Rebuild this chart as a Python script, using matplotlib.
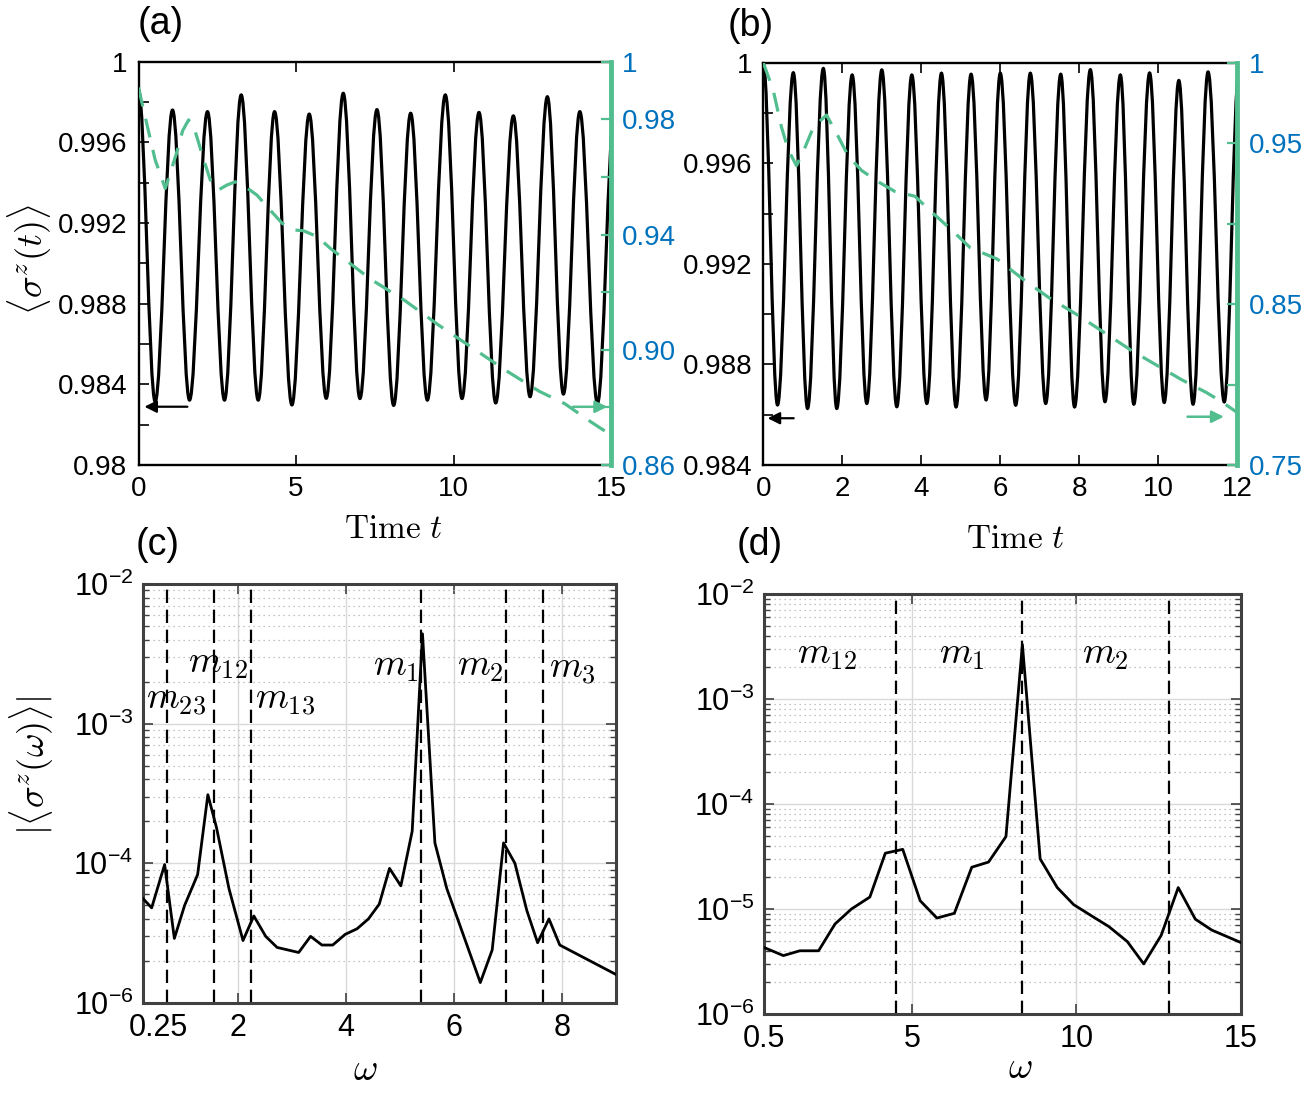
import numpy as np
import matplotlib
matplotlib.use('Agg')
import matplotlib.pyplot as plt
from matplotlib.path import Path
from matplotlib.patches import PathPatch
from matplotlib.ticker import LogLocator, NullFormatter, NullLocator
from matplotlib.transforms import ScaledTranslation

plt.rcParams['font.family'] = ['Liberation Sans', 'DejaVu Sans']
plt.rcParams['mathtext.fontset'] = 'cm'

GREEN = '#52be8f'
BLUE = '#0072bd'
FRAME = '#404040'

# (a) black curve: times and values of the turning points
a_t = [0.0, 0.53, 1.08, 1.62, 2.19, 2.73, 3.26, 3.80, 4.32, 4.87,
       5.42, 5.96, 6.50, 7.03, 7.57, 8.10, 8.64, 9.17, 9.74, 10.27,
       10.81, 11.34, 11.90, 12.43, 12.98, 13.49, 14.01, 14.57, 15.11]
a_v = [0.9986, 0.98314, 0.99760, 0.98322, 0.99752, 0.98322, 0.99835, 0.98322, 0.99752, 0.98298,
       0.99740, 0.98331, 0.99843, 0.98330, 0.99762, 0.98296, 0.99744, 0.98322, 0.99835, 0.98330,
       0.99748, 0.98308, 0.99731, 0.98339, 0.99826, 0.98352, 0.99752, 0.98306, 0.9975]
# (a) green dashed curve (right axis)
ag_t = [0.0, 0.26, 0.53, 0.85, 1.20, 1.40, 1.59, 1.75, 1.85, 2.07, 2.28, 2.54, 2.81, 3.07, 3.39,
        3.76, 4.18, 4.56, 4.93, 5.24, 5.67, 6.09, 7.37, 8.44, 9.51, 10.58, 11.65, 12.72,
        13.53, 14.33, 15.0]
ag_v = [0.9910, 0.9786, 0.9659, 0.9560, 0.9680, 0.9760, 0.9798, 0.9775, 0.9740, 0.9660, 0.9589,
        0.9555, 0.9572, 0.9583, 0.9566, 0.9537, 0.9485, 0.9439, 0.9416, 0.9413, 0.9393, 0.9352,
        0.9245, 0.9172, 0.9087, 0.9008, 0.8929, 0.8856, 0.8813, 0.8752, 0.8704]

# (b) black curve turning points
b_t = [0.0, 0.36, 0.76, 1.12, 1.52, 1.86, 2.25, 2.62, 3.00, 3.38,
       3.76, 4.14, 4.51, 4.88, 5.26, 5.64, 6.00, 6.39, 6.76, 7.15,
       7.53, 7.88, 8.28, 8.65, 9.04, 9.38, 9.78, 10.15, 10.52, 10.88,
       11.26, 11.67, 12.04]
b_v = [1.0, 0.98639, 0.99960, 0.98625, 0.99977, 0.98625, 0.99951, 0.98645, 0.99971, 0.98632,
       0.99951, 0.98645, 0.99958, 0.98631, 0.99954, 0.98659, 0.99958, 0.98638, 0.99958, 0.98645,
       0.99954, 0.98631, 0.99972, 0.98652, 0.99951, 0.98642, 0.99959, 0.98649, 0.99929, 0.98642,
       0.99963, 0.98651, 0.9996]
# (b) green dashed curve (right axis)
bg_t = [0.0, 0.25, 0.46, 0.63, 0.84, 1.05, 1.27, 1.60, 1.90, 2.15, 2.49, 2.91, 3.33, 3.84,
        4.18, 4.77, 5.24, 5.92, 6.60, 7.23, 7.97, 8.65, 9.33, 9.96, 10.59, 11.22, 11.56, 12.0]
bg_v = [1.0, 0.983, 0.960, 0.946, 0.936, 0.947, 0.960, 0.9675, 0.954, 0.942, 0.933, 0.926,
        0.920, 0.917, 0.909, 0.896, 0.885, 0.878, 0.865, 0.854, 0.843, 0.832, 0.821, 0.812,
        0.803, 0.795, 0.790, 0.7826]

# (c) spectrum
c_w = [0.25, 0.41, 0.65, 0.83, 1.02, 1.26, 1.45, 1.61, 1.84, 2.10,
       2.30, 2.52, 2.73, 3.13, 3.35, 3.56, 3.76, 3.99, 4.21, 4.42,
       4.62, 4.81, 5.02, 5.23, 5.42, 5.65, 5.87, 6.49, 6.71, 6.92,
       7.13, 7.35, 7.55, 7.76, 7.96, 9.0]
c_a = [5.6e-5, 4.8e-5, 9.8e-5, 2.9e-5, 5.0e-5, 8.3e-5, 3.1e-4, 1.8e-4, 6.6e-5, 2.8e-5,
       4.2e-5, 3.0e-5, 2.5e-5, 2.3e-5, 3.0e-5, 2.6e-5, 2.6e-5, 3.1e-5, 3.4e-5, 4.0e-5,
       5.1e-5, 9.2e-5, 6.9e-5, 1.7e-4, 4.4e-3, 1.4e-4, 6.6e-5, 1.4e-5, 2.4e-5, 1.4e-4,
       1.0e-4, 4.6e-5, 2.7e-5, 4.0e-5, 2.6e-5, 1.6e-5]
c_modes = [0.69, 1.56, 2.25, 5.40, 6.96, 7.65]
c_names = ['$m_{23}$', '$m_{12}$', '$m_{13}$', '$m_1$', '$m_2$', '$m_3$']
c_name_x = [0.87, 1.63, 2.87, 4.93, 6.49, 8.19]
c_name_y = [1.48e-3, 2.7e-3, 1.48e-3, 2.6e-3, 2.6e-3, 2.45e-3]

# (d) spectrum
d_w = [0.5, 1.09, 1.59, 2.16, 2.66, 3.16, 3.72, 4.19, 4.72, 5.25,
       5.76, 6.29, 6.82, 7.33, 7.86, 8.36, 8.90, 9.42, 9.92, 10.49,
       10.99, 11.55, 12.05, 12.58, 13.10, 13.62, 14.12, 15.0]
d_a = [4.3e-6, 3.6e-6, 4.0e-6, 4.0e-6, 7.2e-6, 1.0e-5, 1.3e-5, 3.4e-5, 3.7e-5, 1.2e-5,
       8.2e-6, 9.1e-6, 2.5e-5, 2.8e-5, 4.9e-5, 3.3e-3, 3.0e-5, 1.6e-5, 1.1e-5, 8.5e-6,
       6.8e-6, 4.9e-6, 3.0e-6, 5.6e-6, 1.6e-5, 8.0e-6, 6.3e-6, 4.8e-6]
d_modes = [4.51, 8.36, 12.82]
d_names = ['$m_{12}$', '$m_1$', '$m_2$']
d_name_x = [2.41, 6.51, 10.87]
d_name_y = [2.7e-3, 2.7e-3, 2.7e-3]


def wave_path(ts, vs, k=0.364):
    # smooth oscillation: cubic bezier between turning points, flat at each extremum
    verts = [(ts[0], vs[0])]
    codes = [Path.MOVETO]
    for i in range(len(ts) - 1):
        dt = ts[i + 1] - ts[i]
        verts += [(ts[i] + k * dt, vs[i]), (ts[i + 1] - k * dt, vs[i + 1]), (ts[i + 1], vs[i + 1])]
        codes += [Path.CURVE4] * 3
    return Path(verts, codes)


fig = plt.figure(figsize=(13.09, 10.93), dpi=100)
W, H = 1309, 1093


def px_axes(l, t, r, b):
    return fig.add_axes([l / W, 1 - b / H, (r - l) / W, (b - t) / H])


def time_panel(ax, t_ext, v_ext, g_t, g_v, tmax, xticks, ylim, ystep, ylabels,
               rlim, rstep, rlabels, k_arrow, g_arrow):
    ax.add_patch(PathPatch(wave_path(t_ext, v_ext), fill=False, ec='black', lw=2.3, zorder=3))
    ax.set_xlim(0, tmax)
    ax.set_ylim(*ylim)
    ax.set_xticks(xticks)
    yt = np.arange(ylim[0], ylim[1] + ystep / 2, ystep)
    ax.set_yticks(yt, ylabels)
    ax.tick_params(direction='in', length=7, width=1.2, labelsize=20, top=True, right=False, pad=8)
    for s in ['left', 'top', 'bottom']:
        ax.spines[s].set_linewidth(1.7)
    ax.spines['right'].set_visible(False)
    ax.annotate('', xy=(k_arrow[1], k_arrow[2]), xytext=(k_arrow[0], k_arrow[2]),
                arrowprops=dict(arrowstyle='-|>', color='black', lw=1.6, mutation_scale=18))

    axr = ax.twinx()
    axr.plot(g_t, g_v, color=GREEN, lw=2.3, dashes=(6, 4))
    axr.set_ylim(*rlim)
    rt = np.arange(rlim[0], rlim[1] + rstep / 2, rstep)
    axr.set_yticks(rt, rlabels)
    axr.tick_params(axis='y', direction='in', length=7, width=1.6, colors=GREEN,
                    labelcolor=BLUE, labelsize=20, pad=8)
    for s in ['left', 'top', 'bottom']:
        axr.spines[s].set_visible(False)
    axr.spines['right'].set_color(GREEN)
    axr.spines['right'].set_linewidth(3.5)
    axr.annotate('', xy=(g_arrow[1], g_arrow[2]), xytext=(g_arrow[0], g_arrow[2]),
                 arrowprops=dict(arrowstyle='-|>', color=GREEN, lw=1.8, mutation_scale=18))
    return axr


def spectrum_panel(ax, w, amp, xlim, ylim, xticks, xlabels, yticks, ylabels,
                   modes, names, name_x, name_y):
    ax.set_yscale('log')
    ax.plot(w, amp, color='black', lw=2.0, zorder=3)
    for m in modes:
        ax.axvline(m, color='black', lw=1.6, dashes=(6, 3), zorder=2)
    for s, x, y in zip(names, name_x, name_y):
        ax.text(x, y, s, fontsize=27, ha='center', va='center', zorder=4)
    ax.set_xlim(*xlim)
    ax.set_ylim(*ylim)
    ax.set_xticks(xticks, xlabels)
    ax.set_yticks(yticks, ylabels)
    ax.yaxis.set_minor_locator(LogLocator(base=10, subs=np.arange(2, 10), numticks=20))
    ax.yaxis.set_minor_formatter(NullFormatter())
    ax.xaxis.set_minor_locator(NullLocator())
    ax.grid(True, which='major', color='#d9d9d9', lw=1.0)
    ax.grid(True, which='minor', axis='y', color='#b0b0b0', lw=0.9, ls=(0, (1, 3)))
    ax.set_axisbelow(True)
    ax.tick_params(which='both', direction='in', color=FRAME, labelsize=22,
                   top=True, right=True, pad=7)
    ax.tick_params(which='major', length=7, width=1.2)
    ax.tick_params(which='minor', length=4, width=1.0)
    for s in ax.spines.values():
        s.set_color(FRAME)
        s.set_linewidth(2.2)


ax_a = px_axes(138.5, 61.7, 611, 465)
ax_b = px_axes(763.3, 62.7, 1237.3, 465)
ax_c = px_axes(143, 584, 616, 1003)
ax_d = px_axes(764, 594, 1240.7, 1014)

time_panel(ax_a, a_t, a_v, ag_t, ag_v, 15, [0, 5, 10, 15], (0.98, 1.0), 0.002,
           ['0.98', '', '0.984', '', '0.988', '', '0.992', '', '0.996', '', '1'],
           (0.86, 1.0), 0.02, ['0.86', '', '0.90', '', '0.94', '', '0.98', '1'],
           (1.64, 0.10, 0.98289), (13.70, 14.97, 0.8802))
time_panel(ax_b, b_t, b_v, bg_t, bg_v, 12, [0, 2, 4, 6, 8, 10, 12], (0.984, 1.0), 0.002,
           ['0.984', '', '0.988', '', '0.992', '', '0.996', '', '1'],
           (0.75, 1.0), 0.05, ['0.75', '', '0.85', '', '0.95', '1'],
           (0.84, 0.04, 0.98586), (10.67, 11.73, 0.780))

c_ylabels = [r'$\mathregular{10^{-6}}$', r'$\mathregular{10^{-4}}$',
             r'$\mathregular{10^{-3}}$', r'$\mathregular{10^{-2}}$']
spectrum_panel(ax_c, c_w, c_a, (0.25, 9), (1e-5, 1e-2), [0.25, 2, 4, 6, 8],
               ['0.25', '2', '4', '6', '8'], [1e-5, 1e-4, 1e-3, 1e-2], c_ylabels,
               c_modes, c_names, c_name_x, c_name_y)
d_ylabels = [r'$\mathregular{10^{%d}}$' % e for e in [-6, -5, -4, -3, -2]]
spectrum_panel(ax_d, d_w, d_a, (0.5, 15), (1e-6, 1e-2), [0.5, 5, 10, 15],
               ['0.5', '5', '10', '15'], [1e-6, 1e-5, 1e-4, 1e-3, 1e-2], d_ylabels,
               d_modes, d_names, d_name_x, d_name_y)

# the "0.25" label sits a little right of its tick in the original
lab = ax_c.get_xticklabels()[0]
lab.set_transform(lab.get_transform() + ScaledTranslation(0.15, 0, fig.dpi_scale_trans))

# panel letters and axis titles placed in figure pixels
for s, x, y in [('(a)', 161, 24), ('(b)', 751, 26), ('(c)', 158, 545), ('(d)', 760, 545)]:
    fig.text(x / W, 1 - y / H, s, fontsize=27, ha='center', va='center')
fig.text(393 / W, 1 - 530 / H, r'$\mathrm{Time}\ t$', fontsize=24, ha='center', va='center')
fig.text(1015 / W, 1 - 540 / H, r'$\mathrm{Time}\ t$', fontsize=24, ha='center', va='center')
fig.text(365 / W, 1 - 1070 / H, r'$\omega$', fontsize=27, ha='center', va='center')
fig.text(1020 / W, 1 - 1068 / H, r'$\omega$', fontsize=27, ha='center', va='center')
fig.text(30 / W, 1 - 260 / H, r'$\langle\sigma^z(t)\rangle$', fontsize=26,
         rotation=90, ha='center', va='center')
fig.text(32 / W, 1 - 765 / H, r'$|\langle\sigma^z(\omega)\rangle|$', fontsize=26,
         rotation=90, ha='center', va='center')

fig.savefig('out.png', dpi=100)
